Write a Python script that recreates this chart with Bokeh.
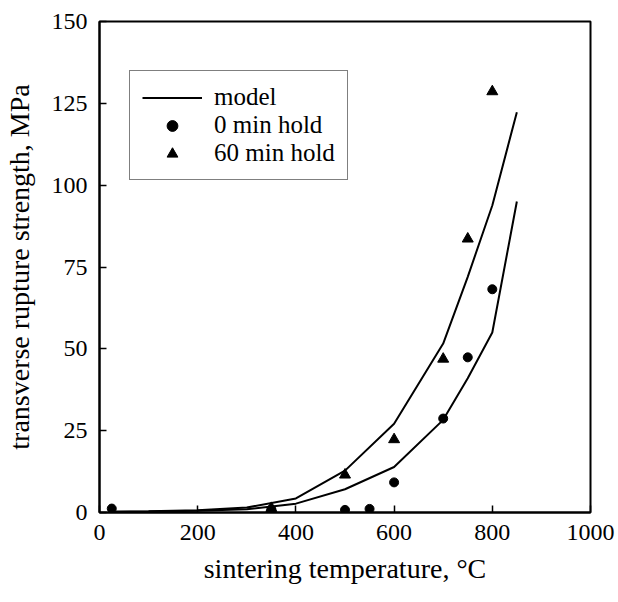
from bokeh.plotting import figure
from bokeh.models import Legend, LegendItem, FixedTicker, Range1d
from bokeh.embed import file_html
from bokeh.resources import INLINE

# data
model_temp = [25, 100, 200, 300, 400, 500, 600, 700, 750, 800, 850]
model_0min = [0.2, 0.3, 0.5, 1.0, 2.7, 7.1, 13.9, 28.3, 41.0, 55.0, 95.0]
model_60min = [0.2, 0.35, 0.7, 1.5, 4.3, 12.8, 27.1, 51.6, 72.0, 93.8, 122.3]

temp_0min = [25, 350, 500, 550, 600, 700, 750, 800]
trs_0min = [1.2, 1.0, 0.8, 1.1, 9.2, 28.7, 47.4, 68.2]

temp_60min = [350, 500, 600, 700, 750, 800]
trs_60min = [1.3, 11.5, 22.3, 46.9, 83.6, 128.6]

x_ticks = [0, 200, 400, 600, 800, 1000]
y_ticks = [0, 25, 50, 75, 100, 125, 150]

FONT = "Liberation Serif"

p = figure(width=618, height=602, frame_width=491, frame_height=491,
           min_border_left=99, min_border_right=28, min_border_top=21, min_border_bottom=90,
           x_range=Range1d(0, 1000), y_range=Range1d(0, 150),
           output_backend="svg", toolbar_location=None)
p.background_fill_color = "white"
p.border_fill_color = "white"
p.grid.visible = False
p.outline_line_color = "black"
p.outline_line_width = 2

for ax in (p.xaxis[0], p.yaxis[0]):
    ax.axis_line_width = 2
    ax.axis_line_color = "black"
    ax.major_tick_in = 7
    ax.major_tick_out = 0
    ax.major_tick_line_width = 1.5
    ax.minor_tick_line_color = None
    ax.major_label_text_font = FONT
    ax.major_label_text_font_size = "24px"
    ax.major_label_text_color = "black"
    ax.axis_label_text_font = FONT
    ax.axis_label_text_font_size = "28px"
    ax.axis_label_text_font_style = "normal"
    ax.axis_label_text_color = "black"
    ax.major_label_standoff = 12

p.xaxis.ticker = FixedTicker(ticks=x_ticks)
p.yaxis.ticker = FixedTicker(ticks=y_ticks)
p.xaxis.axis_label = "sintering temperature, \u00b0C"
p.yaxis.axis_label = "transverse rupture strength, MPa"
p.xaxis.axis_label_standoff = 10
p.yaxis.axis_label_standoff = 14

l1 = p.line(model_temp, model_60min, line_color="black", line_width=2)
l2 = p.line(model_temp, model_0min, line_color="black", line_width=2)
c = p.scatter(temp_0min, trs_0min, marker="circle", size=9, fill_color="black", line_color="black")
t = p.scatter(temp_60min, trs_60min, marker="triangle", size=11, fill_color="black", line_color="black")

legend = Legend(items=[LegendItem(label="model", renderers=[l1]),
                       LegendItem(label="0 min hold", renderers=[c]),
                       LegendItem(label="60 min hold", renderers=[t])],
                location=(30, 332))
legend.label_text_font = FONT
legend.label_text_font_size = "25px"
legend.label_text_color = "black"
legend.glyph_width = 60
legend.glyph_height = 27
legend.label_height = 27
legend.label_standoff = 12
legend.spacing = -5
legend.padding = 12
legend.margin = 0
legend.border_line_color = "black"
legend.border_line_width = 1.5
legend.background_fill_color = "white"
legend.background_fill_alpha = 1
p.add_layout(legend, "center")

open("out.html", "w").write(file_html(p, INLINE))
